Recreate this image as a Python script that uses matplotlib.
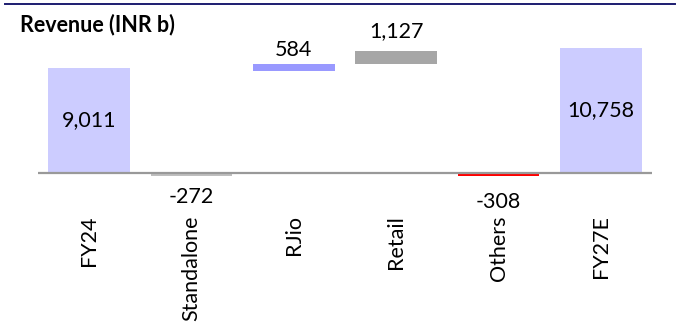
import matplotlib.pyplot as plt
import numpy as np
from matplotlib.lines import Line2D

plt.rcParams['font.family'] = ['Lato', 'DejaVu Sans']

categories = ["FY24", "Standalone", "RJio", "Retail", "Others", "FY27E"]
values = [9011, -272, 584, 1127, -308, 10758]
is_total = [True, False, False, False, False, True]
bar_colors = ['#CCCCFF', '#BFBFBF', '#9999FF', '#A6A6A6', '#FF0000', '#CCCCFF']

# waterfall: rises float on the running total, falls hang from zero
bottoms = []
heights = []
running = 0
for val, total in zip(values, is_total):
    if total:
        bottoms.append(0)
        heights.append(val)
        running = val
    elif val >= 0:
        bottoms.append(running)
        heights.append(val)
        running += val
    else:
        bottoms.append(0)
        heights.append(val)
        running += val

FS = 15.5

figure = plt.figure(figsize=(6.78, 3.22), dpi=100)
axes = figure.add_axes([38 / 678, 131.8 / 322, 614 / 678, 157.1 / 322])

x = np.arange(len(categories))
axes.bar(x, heights, bottom=bottoms, width=0.8, color=bar_colors, zorder=2)
axes.axhline(0, color='#999999', linewidth=1.6, zorder=3)

axes.set_xlim(-0.5, len(categories) - 0.5)
axes.set_ylim(-1500, 12000)
for spine in axes.spines.values():
    spine.set_visible(False)
axes.set_yticks([])
axes.set_xticks(x)
axes.set_xticklabels(categories, rotation=90, fontsize=FS, va='top', ha='center')
axes.tick_params(axis='x', length=0, pad=18)

label_gap = {2: 3, 3: 7}  # points above floating bars
for i, (val, total) in enumerate(zip(values, is_total)):
    text = f"{val:,}"
    if total:
        axes.text(i, val / 2, text, ha='center', va='center', fontsize=FS, zorder=4)
    elif val >= 0:
        axes.annotate(text, xy=(i, bottoms[i] + heights[i]), xytext=(0, label_gap[i]),
                      textcoords='offset points', ha='center', va='bottom', fontsize=FS)
    else:
        axes.annotate(text, xy=(i, val), xytext=(0, -8 if i == 1 else -11),
                      textcoords='offset points', ha='center', va='top', fontsize=FS)

figure.text(20 / 678, 1 - 25 / 322, "Revenue (INR b)", fontsize=FS, fontweight='bold',
            ha='left', va='center')
figure.add_artist(Line2D([5 / 678, 675 / 678], [1 - 3.5 / 322] * 2,
                         color='#1C1C70', linewidth=1.4))

figure.savefig("out.png", dpi=100)
